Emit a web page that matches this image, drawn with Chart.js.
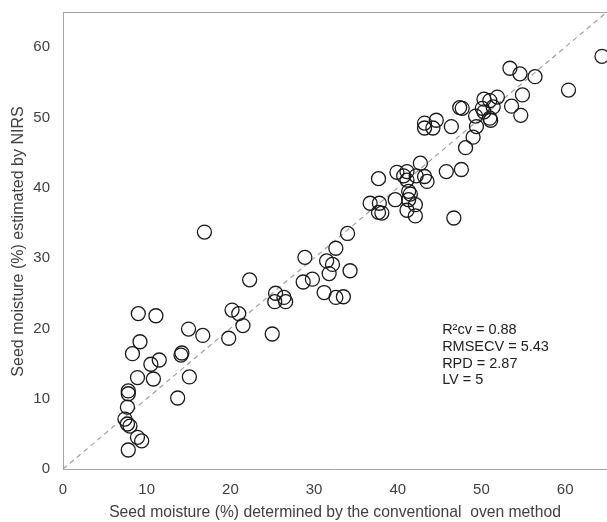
<!DOCTYPE html>
<html>
<head>
<meta charset="utf-8">
<script src="https://cdn.jsdelivr.net/npm/chart.js@4.4.1/dist/chart.umd.min.js"></script>
<style>
  html, body { margin: 0; padding: 0; background: #fff; }
  #wrap { width: 607px; height: 522px; }
</style>
</head>
<body>
<div id="wrap"><canvas id="myChart"></canvas></div>
<script>
// Oven method (x) vs NIRS estimate (y)
const ovenValues = [
  7.8, 8.9, 9.4, 7.4, 7.7, 8.0, 7.7, 7.8, 7.8, 8.9, 10.8, 10.5, 11.5, 8.3, 9.2, 9.0, 11.1,
  13.7, 15.1, 14.1, 14.2, 15.0, 16.7, 16.9, 19.8, 20.2, 21.0, 21.5, 22.3, 25.0, 25.4, 25.3,
  26.4, 26.6, 28.7, 28.9, 29.8, 31.2, 31.5, 31.8, 32.2, 32.6, 32.6, 33.5, 34.0, 34.3,
  36.7, 37.8, 37.7, 38.1, 37.7, 39.7, 39.9, 40.7, 41.1, 41.1, 41.3, 41.5, 41.3, 41.1, 42.1,
  42.1, 42.2, 42.7, 43.2, 43.5, 43.2, 43.2, 44.2, 44.6, 45.8, 46.4, 46.7, 47.4, 47.7, 47.6,
  48.1, 49.0, 49.4, 49.3, 50.1, 50.3, 50.3, 51.0, 51.4, 51.0, 51.1, 51.9, 53.4, 53.6, 54.6,
  54.9, 54.7, 56.4, 60.4, 64.4
];
const nirsValues = [
  2.7, 4.5, 4.0, 7.1, 6.4, 6.1, 8.8, 10.7, 11.1, 13.0, 12.8, 14.9, 15.5, 16.4, 18.1, 22.1, 21.8,
  10.1, 13.1, 16.2, 16.5, 19.9, 19.0, 33.7, 18.6, 22.6, 22.1, 20.4, 26.9, 19.2, 25.0, 23.8,
  24.4, 23.8, 26.6, 30.1, 27.0, 25.1, 29.6, 27.8, 29.1, 31.4, 24.4, 24.5, 33.5, 28.2,
  37.8, 37.8, 36.5, 36.4, 41.3, 38.3, 42.2, 41.7, 42.3, 41.1, 39.5, 39.1, 38.3, 36.8, 37.6,
  36.0, 41.7, 43.5, 41.6, 40.9, 49.2, 48.5, 48.5, 49.6, 42.3, 48.7, 35.7, 51.4, 51.3, 42.6,
  45.7, 47.2, 48.7, 50.2, 51.3, 50.8, 52.6, 52.4, 51.5, 49.9, 49.6, 52.9, 57.0, 51.6, 56.2,
  53.2, 50.3, 55.8, 53.9, 58.7
];
const oneToOne = [0, 65];
const statsLines = ["R\u00b2cv = 0.88", "RMSECV = 5.43", "RPD = 2.87", "LV = 5"];

const FONT = "'Liberation Sans', Arial, sans-serif";
const TEXT = "#404040";
const AXIS = "#a6a6a6";

const points = ovenValues.map((x, i) => ({ x: x, y: nirsValues[i] }));

// top frame line, y title and the statistics box
const extras = {
  id: "extras",
  afterDraw(chart) {
    const { ctx, chartArea } = chart;
    ctx.save();
    ctx.strokeStyle = AXIS;
    ctx.lineWidth = 1;
    ctx.beginPath();
    ctx.moveTo(chartArea.left, chartArea.top + 0.5);
    ctx.lineTo(chartArea.right, chartArea.top + 0.5);
    ctx.stroke();

    ctx.fillStyle = TEXT;
    ctx.font = "16px " + FONT;
    ctx.textAlign = "center";
    ctx.textBaseline = "middle";
    ctx.translate(19, (chartArea.top + chartArea.bottom) / 2 + 1);
    ctx.rotate(-Math.PI / 2);
    ctx.fillText("Seed moisture (%) estimated by NIRS", 0, 0);
    ctx.restore();

    ctx.save();
    ctx.fillStyle = "#222";
    ctx.font = "14.5px " + FONT;
    ctx.textAlign = "left";
    ctx.textBaseline = "middle";
    const x0 = chart.scales.x.getPixelForValue(45.3);
    const y0 = chart.scales.y.getPixelForValue(19.8);
    statsLines.forEach((t, i) => ctx.fillText(t, x0, y0 + i * 16.9));
    ctx.restore();
  },
};

const ctx = document.getElementById("myChart").getContext("2d");
const chart = new Chart(ctx, {
  type: "scatter",
  data: {
    datasets: [
      {
        data: points,
        pointStyle: "circle",
        pointRadius: 7,
        borderColor: "#1a1a1a",
        borderWidth: 1.3,
        backgroundColor: "rgba(0,0,0,0)",
      },
      {
        type: "line",
        data: oneToOne.map((v) => ({ x: v, y: v })),
        borderColor: "#a0a0a0",
        borderWidth: 1.2,
        borderDash: [5, 4],
        pointRadius: 0,
        fill: false,
      },
    ],
  },
  options: {
    responsive: true,
    maintainAspectRatio: false,
    animation: false,
    layout: { autoPadding: false, padding: { top: 12, right: 0, left: 0, bottom: 0 } },
    plugins: { legend: { display: false }, tooltip: { enabled: false } },
    scales: {
      x: {
        type: "linear",
        min: 0,
        max: 65,
        grid: { display: false, drawTicks: false },
        border: { color: AXIS, width: 1 },
        ticks: { stepSize: 10, color: TEXT, font: { family: FONT, size: 15 }, padding: 12 },
        afterBuildTicks: (s) => { s.ticks = s.ticks.filter((t) => t.value % 10 === 0); },
        afterFit: (s) => {
          s.height = 53;
          s.paddingLeft = 0;
          s.paddingRight = 0;
        },
        title: {
          display: true,
          text: "Seed moisture (%) determined by the conventional  oven method",
          color: TEXT,
          font: { family: FONT, size: 15.7 },
          padding: { top: 4, bottom: 0 },
        },
      },
      y: {
        type: "linear",
        min: 0,
        max: 65,
        grid: { display: false, drawTicks: false },
        border: { color: AXIS, width: 1 },
        ticks: { stepSize: 10, color: TEXT, font: { family: FONT, size: 15 }, padding: 13 },
        afterBuildTicks: (s) => { s.ticks = s.ticks.filter((t) => t.value % 10 === 0); },
        afterFit: (s) => {
          s.width = 63;
          s.paddingTop = 0;
          s.paddingBottom = 0;
        },
      },
    },
  },
  plugins: [extras],
});
</script>
</body>
</html>
